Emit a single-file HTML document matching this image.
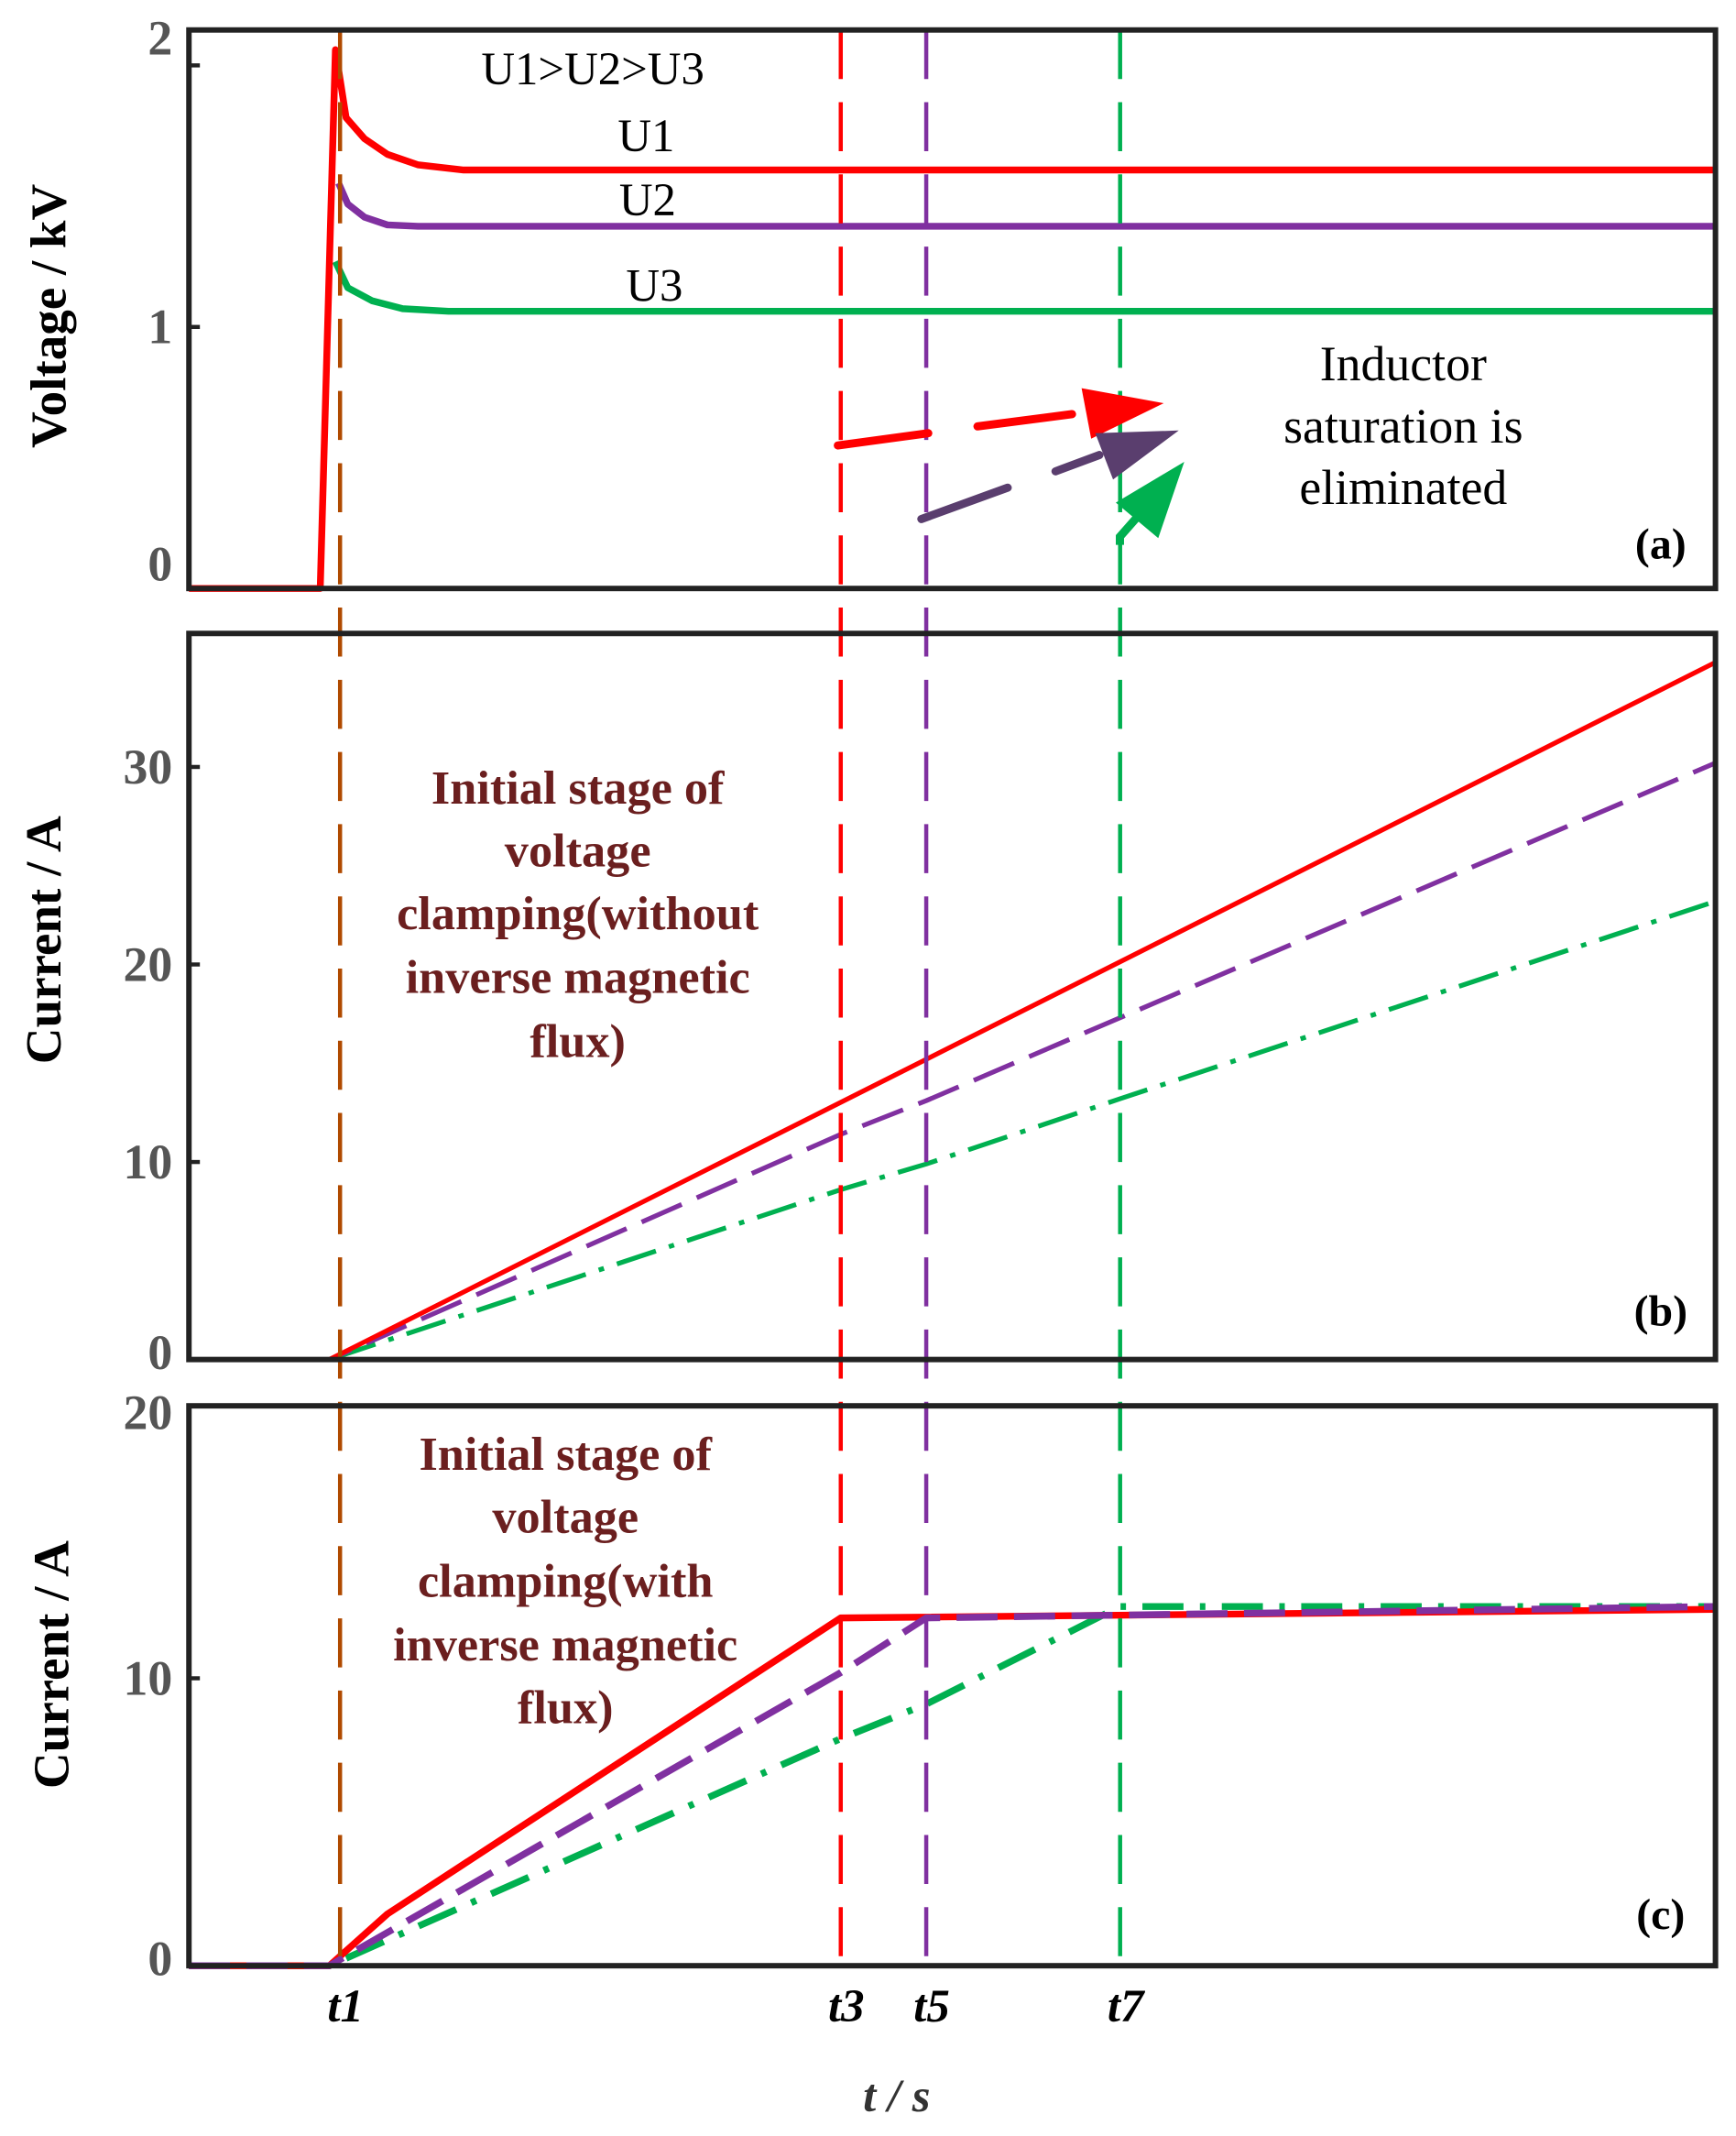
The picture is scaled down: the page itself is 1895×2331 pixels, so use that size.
<!DOCTYPE html>
<html><head><meta charset="utf-8"><style>
html,body{margin:0;padding:0;background:#fff;}
svg{display:block;}
text{font-family:"Liberation Serif",serif;}
</style></head><body>
<svg id="chart" width="1895" height="2331" viewBox="0 0 1268 1568" preserveAspectRatio="none" xmlns="http://www.w3.org/2000/svg">
<g id="marks"></g>
<g>
  <text x="433" y="62" font-size="34" text-anchor="middle">U1&gt;U2&gt;U3</text>
  <text x="472" y="111" font-size="34" text-anchor="middle">U1</text>
  <text x="473" y="158" font-size="34" text-anchor="middle">U2</text>
  <text x="478" y="221" font-size="34" text-anchor="middle">U3</text>
  <g font-size="36" text-anchor="middle">
    <text x="1025" y="279">Inductor</text><text x="1025" y="325">saturation is</text><text x="1025" y="370">eliminated</text>
  </g>
  <g>
    <line x1="612" y1="327" x2="678" y2="318" stroke="#ff0000" stroke-width="6" stroke-linecap="round"/>
    <line x1="714" y1="313" x2="783" y2="304" stroke="#ff0000" stroke-width="6" stroke-linecap="round"/>
    <polygon points="790,285 850,296 797,322" fill="#ff0000"/>
  </g>
  <g>
    <line x1="673" y1="381" x2="736" y2="358" stroke="#5a3e6e" stroke-width="6" stroke-linecap="round"/>
    <line x1="771" y1="346" x2="803" y2="334" stroke="#5a3e6e" stroke-width="6" stroke-linecap="round"/>
    <polygon points="800,318 861,316 813,352" fill="#5a3e6e"/>
  </g>
  <g>
    <polyline points="818,400 818,394 832,378" fill="none" stroke="#00b050" stroke-width="6"/>
    <polygon points="865,339 815,369 846,395" fill="#00b050"/>
  </g>
  <text x="1213" y="410" font-size="32" font-weight="bold" text-anchor="middle">(a)</text>
  <text x="1213" y="973" font-size="32" font-weight="bold" text-anchor="middle">(b)</text>
  <text x="1213" y="1416" font-size="32" font-weight="bold" text-anchor="middle">(c)</text>
  <g font-size="35" font-weight="bold" fill="#6b1f1f" text-anchor="middle">
    <text x="422" y="590">Initial stage of</text><text x="422" y="636">voltage</text><text x="422" y="682">clamping(without</text><text x="422" y="729">inverse magnetic</text><text x="422" y="776">flux)</text>
  </g>
  <g font-size="35" font-weight="bold" fill="#6b1f1f" text-anchor="middle">
    <text x="413" y="1079">Initial stage of</text><text x="413" y="1125">voltage</text><text x="413" y="1172">clamping(with</text><text x="413" y="1219">inverse magnetic</text><text x="413" y="1265">flux)</text>
  </g>
  <text transform="translate(48,232) rotate(-90)" font-size="37" font-weight="bold" text-anchor="middle">Voltage / kV</text>
  <text transform="translate(44,690) rotate(-90)" font-size="37" font-weight="bold" text-anchor="middle">Current / A</text>
  <text transform="translate(50,1222) rotate(-90)" font-size="37" font-weight="bold" text-anchor="middle">Current / A</text>
  <text x="655" y="1550" font-size="34" font-weight="bold" font-style="italic" fill="#333" text-anchor="middle">t / s</text>
</g>
</svg>
<script>
const timeTicks=["t1","t3","t5","t7"];
const timeTickVals=[9.9,42.7,48.3,61.0];
const vRed=[[0,0],[8.6,0],[9.6,2.06],[10.3,1.8],[11.5,1.72],[13,1.66],[15,1.62],[18,1.6],[100,1.6]];
const vPurple=[[9.8,1.55],[10.4,1.47],[11.5,1.42],[13,1.39],[15,1.385],[100,1.385]];
const vGreen=[[9.6,1.25],[10.4,1.15],[12,1.1],[14,1.07],[17,1.06],[100,1.06]];
const bRed=[[0,0],[9.2,0],[100,35.3]];
const bPurple=[[0,0],[9.2,0],[42.7,11.4],[48.3,13.1],[100,30.2]];
const bGreen=[[0,0],[9.2,0],[42.7,8.6],[48.3,9.9],[61,13.2],[100,23.2]];
const cRed=[[0,0],[9.2,0],[13,1.8],[42.7,12.1],[100,12.4]];
const cPurple=[[0,0],[9.2,0],[42.7,10.2],[48.3,12.1],[100,12.5]];
const cGreen=[[0,0],[9.2,0],[42.7,7.9],[48.3,9.1],[61,12.5],[100,12.5]];
const aTicks=[0,1,2];const bTicks=[0,10,20,30];const cTicks=[0,10,20];
const vlineTimes=[9.9,42.7,48.3,61.0];

const NS="http://www.w3.org/2000/svg";
const g=document.getElementById('marks');
const X=t=>138+t*11.15;
const panels={a:{top:22,bot:432,y:v=>432-192*v},b:{top:465,bot:998,y:v=>998-14.5*v},c:{top:1032,bot:1443,y:v=>1443-21.1*v}};
function mk(tag,attrs){const e=document.createElementNS(NS,tag);for(const k in attrs)e.setAttribute(k,attrs[k]);g.appendChild(e);return e;}
function series(data,p,color,w,dash,name){
  const e=mk('polyline',{points:data.map(d=>X(d[0]).toFixed(1)+','+p.y(d[1]).toFixed(1)).join(' '),fill:'none',stroke:color,'stroke-width':w,'stroke-linejoin':'round'});
  if(dash)e.setAttribute('stroke-dasharray',dash);
  
  
}
series(vGreen,panels.a,'#00b050',5,null,'voltage-u3');
series(vPurple,panels.a,'#8030a0',5,null,'voltage-u2');
series(vRed,panels.a,'#ff0000',5,null,'voltage-u1');
series(bGreen,panels.b,'#00b050',3.5,'30,10,4,10','current-b-u3');
series(bPurple,panels.b,'#8030a0',3.5,'32,12','current-b-u2');
series(bRed,panels.b,'#ff0000',3.5,null,'current-b-u1');
series(cGreen,panels.c,'#00b050',5,'30,12,4,12','current-c-u3');
series(cRed,panels.c,'#ff0000',5,null,'current-c-u1');
series(cPurple,panels.c,'#8030a0',5,'30,12','current-c-u2');
const vcol=['#b04a00','#ff0000','#8030a0','#00b050'];
vlineTimes.forEach((t,i)=>{
  const e=mk('line',{x1:X(t),x2:X(t),y1:22,y2:1445,stroke:vcol[i],'stroke-width':3,'stroke-dasharray':'36,17'});
  
  
});
for(const k in panels){const p=panels[k];
  const r=mk('rect',{x:138,y:p.top,width:1115,height:p.bot-p.top,fill:'none',stroke:'#222','stroke-width':4});
  
  
}
function ticks(arr,p,name,labY){
  arr.forEach(v=>{
    const y=labY?labY(v):p.y(v);
    const ty=p.y(v);
    if(ty>p.top+2&&ty<p.bot-2){
      const l=mk('line',{x1:138,x2:146,y1:ty,y2:ty,stroke:'#222','stroke-width':3});
      
      
    }
    const t=mk('text',{x:126,y:y+12,'font-size':36,'font-weight':'bold','text-anchor':'end',fill:'#555'});
    t.textContent=v;
    
    
  });
}
ticks(aTicks,panels.a,'y-axis-a',v=>v==2?28:(v==0?414:panels.a.y(v)));
ticks(bTicks,panels.b,'y-axis-b',v=>v==0?993:panels.b.y(v));
ticks(cTicks,panels.c,'y-axis-c',v=>v==0?1438:(v==20?1037:panels.c.y(v)));
timeTicks.forEach((s,i)=>{
  const t=mk('text',{x:X(timeTickVals[i])+4,y:1484,'font-size':34,'font-weight':'bold','font-style':'italic','text-anchor':'middle'});
  t.textContent=s;
  
  
});
</script>
</body></html>
